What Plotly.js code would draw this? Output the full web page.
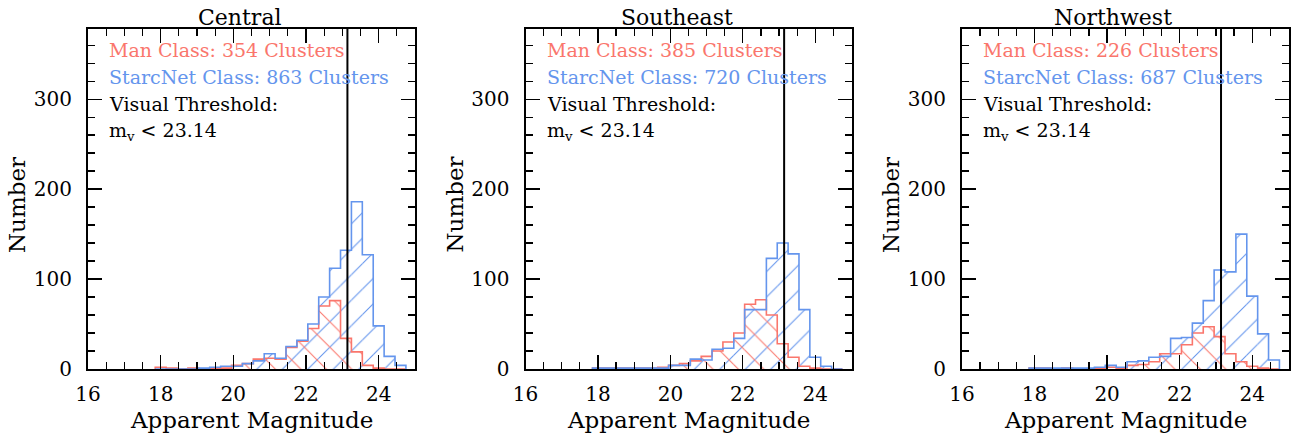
<!DOCTYPE html>
<html>
<head>
<meta charset="utf-8">
<script src="https://cdn.plot.ly/plotly-3.0.1.min.js"></script>
<style>
  html, body { margin: 0; padding: 0; background: #fff; }
  #chart { width: 1297px; height: 433px; }
</style>
</head>
<body>
<div id="chart"></div>
<script>
// Histogram bins (apparent magnitude, bin centres, 0.3 mag wide)
const binCenters = [18.0, 18.3, 18.6, 18.9, 19.2, 19.5, 19.8, 20.1, 20.4, 20.7, 21.0, 21.3,
                    21.6, 21.9, 22.2, 22.5, 22.8, 23.1, 23.4, 23.7, 24.0, 24.3, 24.6];
const binWidth = 0.3;

// Counts per bin: human classification ("Man") and StarcNet classification
const manCentral     = [2, 1, 0, 1, 0, 1, 1, 4, 6, 11, 12, 11, 24, 31, 45, 70, 76, 34, 19, 4, 1, 0, 0];
const starcCentral   = [0, 0, 0, 0, 1, 2, 3, 3, 6, 9, 17, 12, 25, 32, 50, 80, 112, 132, 186, 127, 48, 14, 4];
const manSoutheast   = [1, 1, 1, 1, 1, 1, 2, 4, 6, 9, 14, 20, 30, 40, 72, 77, 60, 28, 13, 3, 1, 0, 0];
const starcSoutheast = [1, 1, 1, 1, 1, 1, 1, 4, 4, 11, 10, 22, 23, 34, 66, 66, 123, 140, 128, 66, 13, 3, 0];
const manNorthwest   = [1, 1, 0, 1, 0, 0, 1, 2, 1, 4, 5, 8, 17, 17, 27, 40, 47, 36, 17, 8, 3, 1, 0];
const starcNorthwest = [1, 1, 1, 1, 1, 1, 2, 4, 2, 8, 9, 13, 14, 34, 35, 51, 76, 110, 108, 150, 81, 39, 10];

const regionNames = ['Central', 'Southeast', 'Northwest'];
const manTotals   = [354, 385, 226];
const starcTotals = [863, 720, 687];
const visualThreshold = 23.14;

const manSeries   = [manCentral, manSoutheast, manNorthwest];
const starcSeries = [starcCentral, starcSoutheast, starcNorthwest];

// Styling
const W = 1297, H = 433;
const MAN_COLOR = 'rgb(250,118,108)';
const STARC_COLOR = 'rgb(100,149,237)';
const FONT = 'DejaVu Serif, Liberation Serif, serif';
const panelPx = [[88, 415], [525.5, 851.5], [962, 1288.5]];
const plotTop = 29, plotBottom = 369;

function stepOutline(counts) {
  const xs = [binCenters[0] - binWidth / 2];
  const ys = [0];
  counts.forEach((c, i) => { xs.push(binCenters[i] - binWidth / 2); ys.push(c); });
  xs.push(binCenters[binCenters.length - 1] + binWidth / 2);
  ys.push(0);
  return { xs, ys };
}

const traces = [];
const annotations = [];
const shapes = [];
const layout = {
  width: W, height: H,
  margin: { l: 0, r: 0, t: 0, b: 0, pad: 0 },
  paper_bgcolor: '#fff', plot_bgcolor: '#fff',
  showlegend: false,
  barmode: 'overlay',
  font: { family: FONT, color: '#000' }
};

for (let p = 0; p < 3; p++) {
  const sfx = p === 0 ? '' : String(p + 1);
  const xa = 'x' + sfx, ya = 'y' + sfx;
  const [x0, x1] = panelPx[p];

  layout['xaxis' + sfx] = {
    domain: [x0 / W, x1 / W], anchor: ya,
    range: [16, 25], tick0: 16, dtick: 2,
    ticks: 'inside', ticklen: 14, tickwidth: 1.3, tickcolor: '#000',
    minor: { dtick: 0.5, ticks: 'inside', ticklen: 7, tickwidth: 1.3, tickcolor: '#000' },
    showline: true, linewidth: 2, linecolor: '#000', mirror: 'allticks',
    showgrid: false, zeroline: false,
    tickfont: { family: FONT, size: 20, color: '#000' },
    ticklabelstandoff: 6
  };
  layout['yaxis' + sfx] = {
    domain: [1 - plotBottom / H, 1 - plotTop / H], anchor: xa,
    range: [0, 378], tick0: 0, dtick: 100,
    ticks: 'inside', ticklen: 14, tickwidth: 1.3, tickcolor: '#000',
    minor: { dtick: 20, ticks: 'inside', ticklen: 7, tickwidth: 1.3, tickcolor: '#000' },
    showline: true, linewidth: 2, linecolor: '#000', mirror: 'allticks',
    showgrid: false, zeroline: false,
    tickfont: { family: FONT, size: 20, color: '#000' },
    ticklabelstandoff: 10
  };

  // hatched fills
  traces.push({
    type: 'bar', x: binCenters, y: starcSeries[p], width: binWidth,
    xaxis: xa, yaxis: ya, hoverinfo: 'skip',
    marker: { color: 'rgba(0,0,0,0)', line: { width: 0 },
      pattern: { shape: '/', size: 18, solidity: 0.06, fgcolor: STARC_COLOR,
                 bgcolor: 'rgba(0,0,0,0)', fillmode: 'replace' } }
  });
  traces.push({
    type: 'bar', x: binCenters, y: manSeries[p], width: binWidth,
    xaxis: xa, yaxis: ya, hoverinfo: 'skip',
    marker: { color: 'rgba(0,0,0,0)', line: { width: 0 },
      pattern: { shape: '\\', size: 18, solidity: 0.06, fgcolor: MAN_COLOR,
                 bgcolor: 'rgba(0,0,0,0)', fillmode: 'replace' } }
  });

  // step outlines
  const manStep = stepOutline(manSeries[p]);
  traces.push({
    type: 'scatter', mode: 'lines', x: manStep.xs, y: manStep.ys,
    xaxis: xa, yaxis: ya, hoverinfo: 'skip',
    line: { shape: 'hv', color: MAN_COLOR, width: 1.6 }
  });
  const starcStep = stepOutline(starcSeries[p]);
  traces.push({
    type: 'scatter', mode: 'lines', x: starcStep.xs, y: starcStep.ys,
    xaxis: xa, yaxis: ya, hoverinfo: 'skip',
    line: { shape: 'hv', color: STARC_COLOR, width: 1.6 }
  });

  // visual threshold
  shapes.push({
    type: 'line', xref: xa, yref: ya + ' domain',
    x0: visualThreshold, x1: visualThreshold, y0: 0, y1: 1,
    line: { color: '#000', width: 2 }, layer: 'above'
  });

  // panel title
  const cx = (x0 + x1) / 2;
  annotations.push({
    text: regionNames[p], xref: 'paper', yref: 'paper',
    x: (cx - 12) / W, y: 1 - 17 / H, xanchor: 'center', yanchor: 'middle',
    showarrow: false, font: { family: FONT, size: 22, color: '#000' }
  });
  // axis titles
  annotations.push({
    text: 'Apparent Magnitude', xref: 'paper', yref: 'paper',
    x: cx / W, y: 1 - 420 / H, xanchor: 'center', yanchor: 'middle',
    showarrow: false, font: { family: FONT, size: 23, color: '#000' }
  });
  annotations.push({
    text: 'Number', xref: 'paper', yref: 'paper', textangle: -90,
    x: (x0 - 71) / W, y: 1 - 205 / H, xanchor: 'center', yanchor: 'middle',
    showarrow: false, font: { family: FONT, size: 23, color: '#000' }
  });

  // in-panel text
  const tx = (x0 + 19) / W;
  const lines = [
    ['Man Class: ' + manTotals[p] + ' Clusters', MAN_COLOR, 50],
    ['StarcNet Class: ' + starcTotals[p] + ' Clusters', STARC_COLOR, 77],
    ['Visual Threshold:', '#000', 104],
    ['m<sub>v</sub> &lt; ' + visualThreshold.toFixed(2), '#000', 132]
  ];
  lines.forEach(([t, c, yy]) => {
    annotations.push({
      text: t, xref: 'paper', yref: 'paper',
      x: tx, y: 1 - yy / H, xanchor: 'left', yanchor: 'middle',
      showarrow: false, font: { family: FONT, size: 19, color: c }
    });
  });
}

layout.annotations = annotations;
layout.shapes = shapes;

Plotly.newPlot('chart', traces, layout, { staticPlot: true, displayModeBar: false });
</script>
</body>
</html>
